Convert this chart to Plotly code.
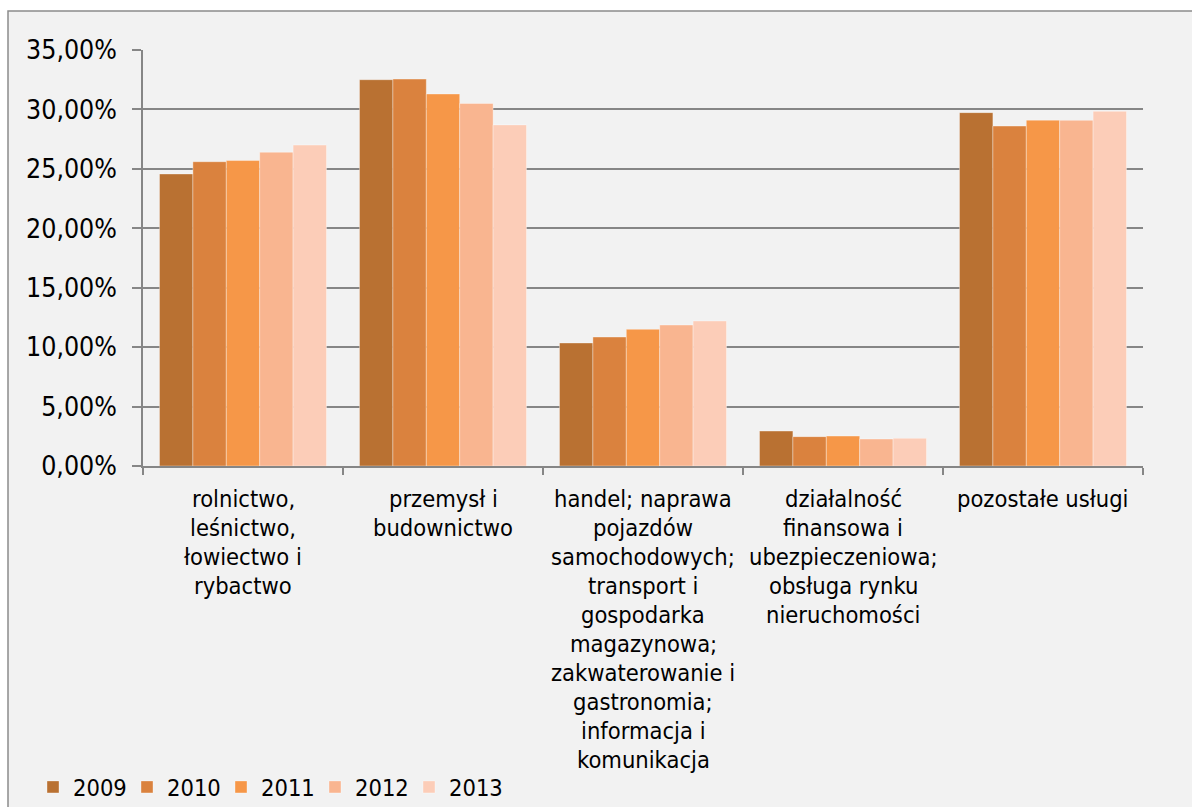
import plotly.graph_objects as go

categories = [
    "rolnictwo,<br>leśnictwo,<br>łowiectwo i<br>rybactwo",
    "przemysł i<br>budownictwo",
    "handel; naprawa<br>pojazdów<br>samochodowych;<br>transport i<br>gospodarka<br>magazynowa;<br>zakwaterowanie i<br>gastronomia;<br>informacja i<br>komunikacja",
    "działalność<br>finansowa i<br>ubezpieczeniowa;<br>obsługa rynku<br>nieruchomości",
    "pozostałe usługi",
]
years = ["2009", "2010", "2011", "2012", "2013"]
v2009 = [24.57, 32.50, 10.35, 2.94, 29.73]
v2010 = [25.60, 32.55, 10.85, 2.47, 28.60]
v2011 = [25.70, 31.30, 11.50, 2.52, 29.10]
v2012 = [26.40, 30.50, 11.86, 2.27, 29.08]
v2013 = [27.00, 28.70, 12.20, 2.33, 29.84]
series = [v2009, v2010, v2011, v2012, v2013]
colors = ["#B97132", "#DA823E", "#F69748", "#F9B590", "#FCCDB8"]
y_ticks = [0, 5, 10, 15, 20, 25, 30, 35]
y_tick_labels = ["0,00%", "5,00%", "10,00%", "15,00%", "20,00%", "25,00%", "30,00%", "35,00%"]

FONT = "DejaVu Sans Condensed, DejaVu Sans, sans-serif"
keys = list(range(len(categories)))

fig = go.Figure()
for name, vals, col in zip(years, series, colors):
    fig.add_trace(go.Bar(
        x=keys, y=vals, name=name,
        marker=dict(color=col, line=dict(color="rgba(255,255,255,0.35)", width=1)),
    ))

# category labels as per-line annotations (line spacing like original)
for k, lab in enumerate(categories):
    for i, line in enumerate(lab.split("<br>")):
        fig.add_annotation(
            x=k, y=0, xref="x", yref="paper", text=line, showarrow=False,
            xanchor="center", yanchor="top", yshift=-17 - i * 29.0,
            font=dict(family=FONT, size=23.5, color="#000000"),
        )

# outer chart frame
fig.add_shape(type="rect", xref="paper", yref="paper",
              x0=-0.135, x1=1.3, y0=-1.2, y1=1.0938,
              fillcolor="#F2F2F2", line=dict(color="#8C8C8C", width=1.5), layer="below")

fig.update_layout(
    width=1192, height=807,
    margin=dict(l=143, r=49, t=50, b=341, autoexpand=False),
    paper_bgcolor="#FFFFFF", plot_bgcolor="#F2F2F2",
    barmode="group", bargap=0.165, bargroupgap=0,
    font=dict(family=FONT, size=23.5, color="#000000"),
    legend=dict(orientation="h", x=-0.11, y=-0.772, xanchor="left", yanchor="middle",
                bgcolor="rgba(0,0,0,0)", font=dict(family=FONT, size=23.5),
                itemwidth=30, tracegroupgap=0, entrywidth=49, entrywidthmode="pixels"),
    showlegend=True,
)
fig.update_xaxes(
    range=[-0.5, 4.5], tickmode="array", tickvals=[-0.5, 0.5, 1.5, 2.5, 3.5, 4.5],
    showticklabels=False, ticks="outside", ticklen=7, tickcolor="#868686", tickwidth=1.5,
    showline=True, linecolor="#868686", linewidth=1.5, showgrid=False, zeroline=False,
)
fig.update_yaxes(
    range=[0, 35], tickmode="array", tickvals=y_ticks, ticktext=y_tick_labels,
    ticks="outside", ticklen=9, tickcolor="#868686", tickwidth=1.5,
    showline=True, linecolor="#868686", linewidth=1.5,
    showgrid=True, gridcolor="#868686", gridwidth=1.5, zeroline=False,
    tickfont=dict(family=FONT, size=26.5), ticklabelstandoff=10,
)

fig.write_html("out.html", config={"displayModeBar": False},
               post_script="document.body.style.margin='0';")
